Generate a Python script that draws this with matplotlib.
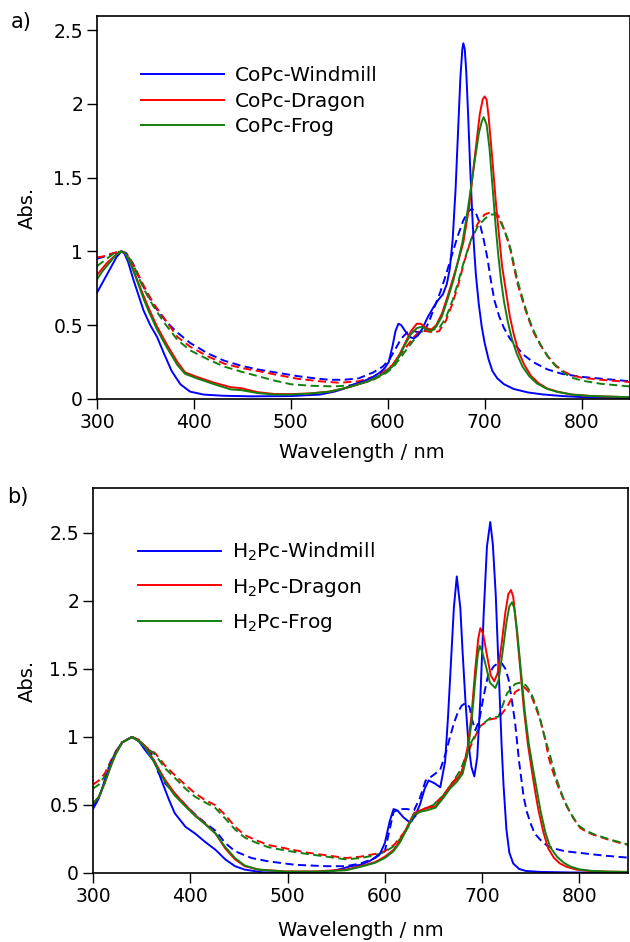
import matplotlib
matplotlib.use("Agg")
import matplotlib.pyplot as plt

plt.rcParams['font.family'] = ['DejaVu Sans']

# ---- a) CoPc, solution (solid) ----
co_wind_wl = [300, 305, 310, 315, 320, 325, 328, 332, 337, 342, 348, 355, 362, 369, 377, 386, 396, 410, 430, 460,
              500, 530, 545, 555, 565, 575, 585, 592, 597, 601, 605, 608, 611, 614, 618, 623, 627, 631, 636, 641,
              647, 652, 657, 661, 664, 667, 670, 673, 675, 677, 678, 679.5, 681, 683, 685, 687, 689, 691, 694, 697,
              700, 704, 708, 713, 720, 730, 745, 760, 780, 800, 825, 850]
co_wind_abs = [0.72, 0.78, 0.84, 0.90, 0.96, 1.00, 0.99, 0.93, 0.82, 0.72, 0.60, 0.50, 0.42, 0.31, 0.19, 0.10, 0.05, 0.03, 0.022, 0.018,
               0.02, 0.03, 0.05, 0.07, 0.10, 0.12, 0.15, 0.18, 0.21, 0.25, 0.36, 0.46, 0.51, 0.50, 0.46, 0.42, 0.41, 0.43, 0.48, 0.55,
               0.62, 0.67, 0.71, 0.78, 0.88, 1.08, 1.42, 1.88, 2.18, 2.37, 2.41, 2.37, 2.22, 1.92, 1.58, 1.28, 1.03, 0.84, 0.64, 0.49,
               0.38, 0.27, 0.19, 0.14, 0.10, 0.068, 0.044, 0.031, 0.02, 0.013, 0.009, 0.006]

co_drag_wl = [300, 305, 310, 315, 320, 325, 329, 335, 342, 348, 353, 362, 372, 383, 391, 403, 421, 438, 449, 466,
              483, 500, 520, 540, 560, 580, 595, 605, 612, 618, 624, 630, 634, 640, 645, 650, 656, 662, 668, 673,
              678, 684, 690, 695, 698, 700, 702, 704, 708, 712, 715, 718, 722, 726, 730, 735, 741, 748, 756, 765,
              775, 790, 810, 850]
co_drag_abs = [0.84, 0.88, 0.92, 0.95, 0.98, 1.00, 0.99, 0.92, 0.80, 0.70, 0.62, 0.49, 0.37, 0.25, 0.18, 0.15, 0.11, 0.08, 0.073, 0.046,
               0.034, 0.033, 0.038, 0.05, 0.08, 0.12, 0.17, 0.23, 0.30, 0.38, 0.46, 0.51, 0.51, 0.48, 0.47, 0.50, 0.58, 0.70, 0.83, 0.94,
               1.06, 1.30, 1.65, 1.93, 2.03, 2.05, 2.03, 1.92, 1.62, 1.30, 1.10, 0.90, 0.73, 0.56, 0.44, 0.32, 0.23, 0.155, 0.105, 0.07,
               0.05, 0.03, 0.02, 0.012]

co_frog_wl = [300, 305, 310, 315, 320, 325, 329, 335, 342, 348, 353, 362, 372, 383, 391, 403, 421, 438, 449, 466,
              483, 500, 520, 540, 560, 580, 595, 605, 612, 618, 624, 630, 635, 640, 645, 650, 656, 662, 668, 672,
              677, 683, 689, 694, 697, 699, 702, 705, 708, 711, 714, 717, 720, 724, 728, 733, 739, 746, 754, 764,
              775, 790, 810, 850]
co_frog_abs = [0.81, 0.86, 0.90, 0.94, 0.98, 1.00, 0.99, 0.91, 0.79, 0.68, 0.60, 0.47, 0.35, 0.23, 0.17, 0.14, 0.10, 0.065, 0.06, 0.04,
               0.03, 0.03, 0.037, 0.05, 0.08, 0.12, 0.17, 0.22, 0.29, 0.37, 0.44, 0.48, 0.49, 0.47, 0.46, 0.49, 0.56, 0.68, 0.81, 0.92,
               1.06, 1.30, 1.58, 1.80, 1.88, 1.91, 1.86, 1.70, 1.45, 1.20, 0.98, 0.80, 0.66, 0.52, 0.41, 0.31, 0.22, 0.155, 0.105, 0.07,
               0.048, 0.03, 0.02, 0.012]

# ---- a) CoPc, film (dashed) ----
co_wind_f_wl = [300, 310, 318, 325, 330, 337, 343, 348, 358, 365, 372, 383, 396, 414, 431, 449, 466, 486, 507, 525,
                540, 555, 570, 585, 595, 602, 608, 614, 620, 627, 633, 638, 643, 648, 654, 660, 666, 672, 678, 683,
                687, 691, 695, 699, 703, 706, 710, 715, 720, 726, 731, 740, 750, 765, 780, 800, 825, 850]
co_wind_f_abs = [0.95, 0.97, 0.99, 1.00, 0.99, 0.92, 0.83, 0.76, 0.64, 0.58, 0.52, 0.45, 0.38, 0.31, 0.26, 0.225, 0.20, 0.178, 0.155, 0.14,
                 0.13, 0.13, 0.14, 0.18, 0.22, 0.27, 0.34, 0.41, 0.45, 0.46, 0.45, 0.46, 0.53, 0.62, 0.72, 0.84, 0.97, 1.10, 1.21, 1.27,
                 1.29, 1.26, 1.19, 1.08, 0.95, 0.82, 0.67, 0.56, 0.48, 0.41, 0.37, 0.30, 0.25, 0.20, 0.17, 0.15, 0.135, 0.12]

co_drag_f_wl = [300, 306, 312, 318, 326, 332, 340, 348, 358, 369, 383, 396, 414, 431, 449, 466, 483, 507, 530, 550,
                570, 585, 597, 605, 612, 620, 627, 633, 640, 647, 653, 660, 667, 673, 679, 686, 693, 700, 708, 712,
                716, 720, 724, 727, 730, 734, 741, 746, 751, 758, 765, 773, 782, 790, 800, 820, 850]
co_drag_f_abs = [0.96, 0.965, 0.98, 0.99, 1.00, 0.97, 0.88, 0.77, 0.65, 0.55, 0.42, 0.355, 0.29, 0.24, 0.21, 0.19, 0.167, 0.137, 0.12, 0.11,
                 0.12, 0.15, 0.19, 0.23, 0.29, 0.36, 0.42, 0.46, 0.46, 0.45, 0.46, 0.53, 0.65, 0.78, 0.93, 1.08, 1.19, 1.25, 1.27, 1.26,
                 1.22, 1.15, 1.07, 1.00, 0.90, 0.78, 0.625, 0.53, 0.445, 0.36, 0.29, 0.23, 0.185, 0.16, 0.145, 0.13, 0.115]

co_frog_f_wl = [300, 306, 312, 318, 325, 331, 338, 348, 358, 369, 383, 396, 414, 431, 449, 466, 483, 500, 520, 545,
                565, 585, 597, 605, 612, 620, 627, 633, 640, 647, 653, 660, 667, 673, 679, 686, 693, 700, 706, 711,
                715, 720, 724, 727, 730, 734, 741, 746, 751, 758, 765, 773, 782, 790, 800, 820, 850]
co_frog_f_abs = [0.90, 0.93, 0.96, 0.99, 1.00, 0.98, 0.90, 0.75, 0.63, 0.52, 0.40, 0.33, 0.27, 0.22, 0.185, 0.155, 0.125, 0.10, 0.09, 0.085,
                 0.095, 0.13, 0.17, 0.21, 0.27, 0.34, 0.40, 0.45, 0.47, 0.47, 0.48, 0.55, 0.67, 0.80, 0.94, 1.08, 1.17, 1.22, 1.25, 1.25,
                 1.22, 1.15, 1.08, 1.01, 0.92, 0.80, 0.64, 0.54, 0.455, 0.365, 0.29, 0.225, 0.175, 0.145, 0.125, 0.103, 0.085]

# ---- b) H2Pc, solution (solid) ----
h2_wind_wl = [300, 306, 312, 318, 323, 330, 340, 347, 354, 364, 371, 378, 384, 395, 405, 415, 426, 436, 446, 456,
              474, 500, 540, 555, 565, 575, 585, 595, 600, 605, 609, 613, 619, 626, 631, 636, 641, 645, 651, 657,
              662, 665, 668, 671, 674, 677.6, 680, 683, 686, 689, 692, 695, 698, 701.6, 705, 708.4, 711, 714, 717, 720,
              722, 725, 728, 732, 738, 745, 760, 790, 850]
h2_wind_abs = [0.47, 0.55, 0.68, 0.80, 0.88, 0.96, 1.00, 0.97, 0.90, 0.81, 0.67, 0.54, 0.44, 0.34, 0.29, 0.23, 0.17, 0.10, 0.05, 0.025,
               0.005, 0.003, 0.006, 0.03, 0.05, 0.06, 0.09, 0.14, 0.22, 0.38, 0.47, 0.46, 0.41, 0.37, 0.42, 0.50, 0.62, 0.68, 0.66, 0.63,
               0.82, 1.15, 1.55, 1.95, 2.18, 1.95, 1.62, 1.25, 0.95, 0.78, 0.71, 0.85, 1.25, 1.90, 2.40, 2.58, 2.42, 2.05, 1.50, 0.95,
               0.65, 0.32, 0.15, 0.07, 0.03, 0.015, 0.008, 0.004, 0.002]

h2_drag_wl = [300, 306, 312, 318, 323, 330, 340, 347, 354, 364, 374, 384, 395, 405, 415, 426, 436, 446, 456, 470,
              498, 530, 560, 575, 590, 600, 609, 616, 623, 630, 636, 643, 652, 660, 667, 674, 680, 685, 689, 693,
              696, 698.2, 701, 705, 709, 712.6, 716, 720, 724, 727, 729.7, 732, 735, 739, 743, 747, 751, 755, 758, 763,
              768, 774, 780, 787, 797, 810, 830, 850]
h2_drag_abs = [0.51, 0.56, 0.66, 0.78, 0.87, 0.96, 1.00, 0.97, 0.93, 0.81, 0.686, 0.586, 0.50, 0.426, 0.365, 0.29, 0.18, 0.10, 0.05, 0.025,
               0.012, 0.012, 0.025, 0.05, 0.08, 0.12, 0.17, 0.24, 0.34, 0.44, 0.46, 0.476, 0.49, 0.56, 0.635, 0.69, 0.75, 0.92, 1.15, 1.50,
               1.72, 1.80, 1.76, 1.60, 1.45, 1.41, 1.47, 1.68, 1.92, 2.05, 2.08, 2.03, 1.83, 1.52, 1.20, 0.95, 0.76, 0.58, 0.46, 0.30,
               0.18, 0.11, 0.07, 0.045, 0.025, 0.015, 0.01, 0.008]

h2_frog_wl = [300, 306, 312, 318, 323, 330, 340, 347, 354, 364, 374, 384, 395, 405, 415, 426, 436, 446, 456, 470,
              498, 530, 560, 575, 590, 600, 609, 616, 623, 630, 636, 643, 652, 660, 667, 674, 680, 685, 689, 693,
              695.5, 697.5, 700, 704, 708, 713.6, 717, 721, 725, 728, 730.7, 733, 736, 740, 744, 748, 753, 757, 760, 765,
              770, 777, 784, 791, 800, 812, 830, 850]
h2_frog_abs = [0.51, 0.56, 0.66, 0.78, 0.87, 0.96, 1.00, 0.97, 0.92, 0.80, 0.67, 0.57, 0.49, 0.42, 0.36, 0.29, 0.19, 0.11, 0.055, 0.025,
               0.01, 0.01, 0.02, 0.045, 0.075, 0.11, 0.16, 0.23, 0.33, 0.43, 0.45, 0.46, 0.48, 0.55, 0.62, 0.67, 0.73, 0.88, 1.10, 1.42,
               1.60, 1.67, 1.63, 1.52, 1.40, 1.36, 1.42, 1.62, 1.84, 1.96, 1.99, 1.95, 1.78, 1.48, 1.18, 0.95, 0.74, 0.58, 0.46, 0.30,
               0.19, 0.12, 0.075, 0.047, 0.027, 0.016, 0.01, 0.008]

# ---- b) H2Pc, film (dashed) ----
h2_wind_f_wl = [300, 306, 312, 318, 323, 330, 340, 347, 354, 360, 367, 374, 384, 395, 405, 415, 426, 436, 446, 463,
                480, 508, 540, 560, 575, 590, 600, 609, 616, 623, 630, 636, 642, 650, 657, 662.6, 667, 671, 675, 679,
                683, 687, 690, 693, 697, 701.6, 706, 712, 716, 720.4, 724, 727.3, 731, 734, 738, 742.7, 746, 749.6, 754, 760,
                767, 774, 785, 804, 825, 850]
h2_wind_f_abs = [0.49, 0.55, 0.67, 0.79, 0.88, 0.96, 1.00, 0.97, 0.93, 0.88, 0.74, 0.66, 0.585, 0.50, 0.43, 0.37, 0.31, 0.22, 0.16, 0.11,
                 0.086, 0.06, 0.05, 0.05, 0.07, 0.11, 0.16, 0.45, 0.47, 0.47, 0.46, 0.55, 0.68, 0.72, 0.76, 0.88, 1.00, 1.10, 1.18, 1.23,
                 1.25, 1.22, 1.12, 1.05, 1.12, 1.30, 1.45, 1.52, 1.54, 1.54, 1.50, 1.42, 1.25, 1.10, 0.82, 0.56, 0.45, 0.37, 0.29, 0.243,
                 0.20, 0.18, 0.16, 0.145, 0.128, 0.113]

h2_drag_f_wl = [300, 306, 312, 318, 324, 330, 340, 347, 353.5, 364, 374, 384, 395, 405, 415, 425.5, 436, 446, 456, 467,
                480, 498, 520, 540, 560, 575, 590, 600, 610, 620, 630, 640, 650, 660, 670, 678, 688, 698, 708.4, 717,
                725.6, 734, 742.7, 749.6, 755, 760, 765, 768.4, 773, 779, 787, 794, 801, 808, 815, 832, 850]
h2_drag_f_abs = [0.65, 0.68, 0.73, 0.82, 0.90, 0.96, 1.00, 0.98, 0.93, 0.88, 0.79, 0.72, 0.647, 0.586, 0.537, 0.50, 0.426, 0.34, 0.279, 0.243,
                 0.206, 0.181, 0.15, 0.13, 0.11, 0.12, 0.14, 0.16, 0.21, 0.30, 0.42, 0.47, 0.50, 0.57, 0.67, 0.73, 0.93, 1.08, 1.13, 1.14,
                 1.22, 1.33, 1.37, 1.32, 1.22, 1.12, 0.98, 0.85, 0.74, 0.62, 0.49, 0.40, 0.33, 0.30, 0.28, 0.24, 0.206]

h2_frog_f_wl = [300, 306, 312, 318, 324, 330, 340, 347, 353.5, 364, 374, 384, 395, 405, 415, 425.5, 436, 446, 456, 467,
                480, 498, 520, 540, 560, 575, 590, 600, 610, 620, 630, 640, 650, 660, 670, 678, 688, 698, 708.4, 717,
                725.6, 734, 740, 745, 750, 756, 760, 765, 770, 776, 784, 791, 799, 807, 815, 832, 850]
h2_frog_f_abs = [0.62, 0.65, 0.71, 0.81, 0.90, 0.96, 1.00, 0.98, 0.93, 0.87, 0.77, 0.70, 0.62, 0.56, 0.52, 0.48, 0.40, 0.32, 0.26, 0.225,
                 0.19, 0.165, 0.14, 0.12, 0.10, 0.11, 0.13, 0.155, 0.20, 0.29, 0.41, 0.47, 0.50, 0.57, 0.67, 0.76, 0.95, 1.08, 1.14, 1.15,
                 1.32, 1.39, 1.40, 1.38, 1.33, 1.22, 1.12, 0.98, 0.86, 0.70, 0.54, 0.44, 0.35, 0.31, 0.285, 0.245, 0.21]

co_labels = ["CoPc-Windmill", "CoPc-Dragon", "CoPc-Frog"]
h2_labels = ["H$_2$Pc-Windmill", "H$_2$Pc-Dragon", "H$_2$Pc-Frog"]
colors = ["#0000ff", "#ff0000", "#118011"]

fig = plt.figure(figsize=(6.3, 9.42), dpi=100)
ax1 = fig.add_axes([97/630, 1-399/942, 533/630, 383/942])
ax2 = fig.add_axes([93/630, 1-873/942, 535/630, 385/942])

panels = [
    (ax1, [(co_wind_wl, co_wind_abs), (co_drag_wl, co_drag_abs), (co_frog_wl, co_frog_abs)],
     [(co_wind_f_wl, co_wind_f_abs), (co_drag_f_wl, co_drag_f_abs), (co_frog_f_wl, co_frog_f_abs)],
     co_labels, 2.595),
    (ax2, [(h2_wind_wl, h2_wind_abs), (h2_drag_wl, h2_drag_abs), (h2_frog_wl, h2_frog_abs)],
     [(h2_wind_f_wl, h2_wind_f_abs), (h2_drag_f_wl, h2_drag_f_abs), (h2_frog_f_wl, h2_frog_f_abs)],
     h2_labels, 2.83),
]

for ax, sol, film, labels, ytop in panels:
    for (wl, a), c in zip(film, colors):
        ax.plot(wl, a, color=c, lw=1.4, dashes=(4.2, 2.3))
    for (wl, a), c, lab in zip(sol, colors, labels):
        ax.plot(wl, a, color=c, lw=1.4, label=lab)
    ax.set_xlim(300, 850)
    ax.set_ylim(0, ytop)
    ax.set_xticks([300, 400, 500, 600, 700, 800])
    ax.set_yticks([0, 0.5, 1, 1.5, 2, 2.5])
    ax.set_yticklabels(["0", "0.5", "1", "1.5", "2", "2.5"])
    ax.tick_params(direction='out', length=7, width=1, labelsize=13.5, pad=3)
    for s in ax.spines.values():
        s.set_linewidth(1.2)
    ax.set_xlabel("Wavelength / nm", fontsize=14)
    ax.set_ylabel("Abs.", fontsize=14)

ax1.legend(handles=ax1.get_lines()[3:], loc='upper left', bbox_to_anchor=(0.083, 0.869), frameon=False,
           fontsize=14.5, handlelength=4.1, handletextpad=0.55, labelspacing=0.33, borderpad=0, borderaxespad=0)
ax2.legend(handles=ax2.get_lines()[3:], loc='upper left', bbox_to_anchor=(0.085, 0.862), frameon=False,
           fontsize=14.5, handlelength=4.1, handletextpad=0.55, labelspacing=0.65, borderpad=0, borderaxespad=0)

ax1.xaxis.set_label_coords(0.497, -0.115)
ax2.xaxis.set_label_coords(0.5, -0.125)
ax1.yaxis.set_label_coords(-0.113, 0.5)
ax2.yaxis.set_label_coords(-0.105, 0.5)

fig.text(0.017, 1-22/942, "a)", fontsize=15, va='center')
fig.text(0.012, 1-497/942, "b)", fontsize=15, va='center')

fig.savefig("out.png", dpi=100)
